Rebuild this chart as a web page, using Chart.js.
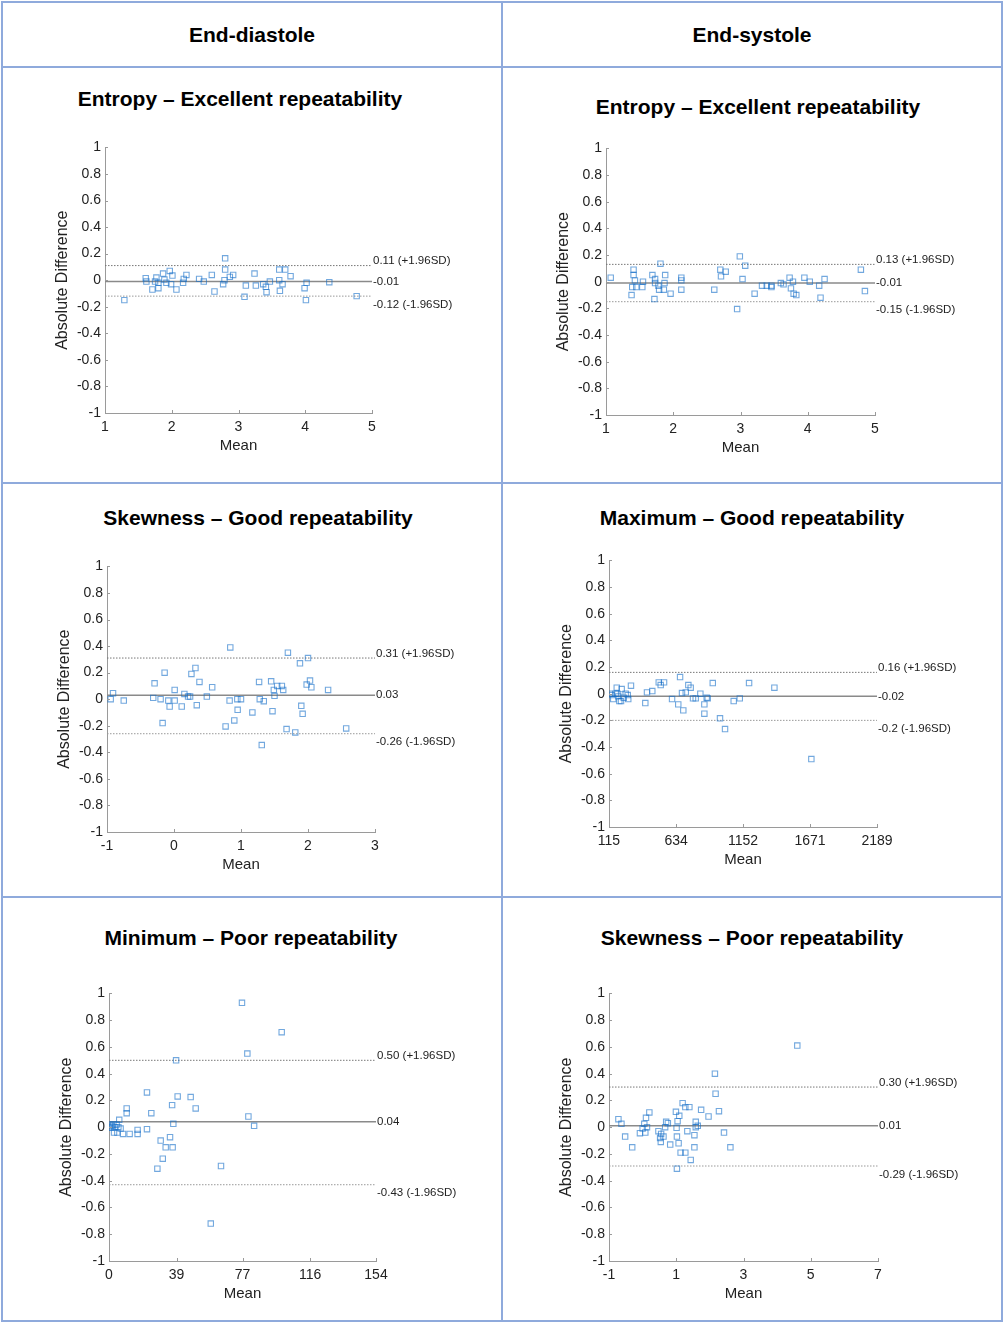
<!DOCTYPE html>
<html><head><meta charset="utf-8">
<script src="https://cdn.jsdelivr.net/npm/chart.js@4.4.1/dist/chart.umd.min.js"></script>
<style>
body{margin:0;background:#fff;width:1005px;height:1324px;position:relative;overflow:hidden;font-family:"Liberation Sans",Arial,sans-serif}
.ln{position:absolute;background:#8FAADC}
.tt{position:absolute;width:500px;text-align:center;font-weight:bold;font-size:21px;color:#000;line-height:24px;white-space:nowrap}
canvas{position:absolute}
</style></head><body>
<div class="ln" style="left:1px;top:1px;width:1002px;height:2px"></div>
<div class="ln" style="left:1px;top:1320px;width:1002px;height:2px"></div>
<div class="ln" style="left:1px;top:1px;width:2px;height:1321px"></div>
<div class="ln" style="left:1001px;top:1px;width:2px;height:1321px"></div>
<div class="ln" style="left:501px;top:1px;width:2px;height:1321px"></div>
<div class="ln" style="left:1px;top:66px;width:1002px;height:2px"></div>
<div class="ln" style="left:1px;top:482px;width:1002px;height:2px"></div>
<div class="ln" style="left:1px;top:896px;width:1002px;height:2px"></div>

<div class="tt" style="left:2px;top:23px">End-diastole</div>
<div class="tt" style="left:502px;top:23px">End-systole</div>
<div class="tt" style="left:-10px;top:87px">Entropy – Excellent repeatability</div>
<div class="tt" style="left:508px;top:95px">Entropy – Excellent repeatability</div>
<div class="tt" style="left:8px;top:506px">Skewness – Good repeatability</div>
<div class="tt" style="left:502px;top:506px">Maximum – Good repeatability</div>
<div class="tt" style="left:1px;top:926px">Minimum – Poor repeatability</div>
<div class="tt" style="left:502px;top:926px">Skewness – Poor repeatability</div>

<canvas id="c1"></canvas><canvas id="c2"></canvas><canvas id="c3"></canvas>
<canvas id="c4"></canvas><canvas id="c5"></canvas><canvas id="c6"></canvas>
<script>
// ---------- DATA ----------
const yTicks = [-1, -0.8, -0.6, -0.4, -0.2, 0, 0.2, 0.4, 0.6, 0.8, 1];

// End-diastole, Entropy
const edEntropyMean = [1.29,1.61,1.62,1.71,1.75,1.77,1.80,1.80,1.87,1.89,1.92,1.97,1.99,2.01,2.07,2.17,2.18,2.22,2.41,2.48,2.60,2.64,2.77,2.80,2.80,2.79,2.87,2.92,3.09,3.11,3.24,3.26,3.37,3.41,3.42,3.47,3.61,3.62,3.61,3.66,3.70,3.78,3.99,4.01,4.02,4.36,4.77];
const edEntropyDiff = [-0.15,0.015,-0.01,-0.07,-0.01,0.02,-0.06,-0.02,0.05,0.005,-0.02,0.07,-0.03,0.035,-0.07,-0.02,0.01,0.04,0.01,-0.01,0.04,-0.085,-0.03,0.165,0.08,0.0,0.025,0.04,-0.125,-0.04,0.05,-0.04,-0.03,-0.05,-0.09,-0.01,0.08,-0.08,0.0,-0.03,0.08,0.03,-0.06,-0.15,-0.02,-0.015,-0.12];
const edEntropyLimits = [0.11, -0.01, -0.12];
const edEntropyLabels = ["0.11 (+1.96SD)", "-0.01", "-0.12 (-1.96SD)"];
const edEntropyXTicks = [1, 2, 3, 4, 5];

// End-systole, Entropy
const esEntropyMean = [1.07,1.38,1.39,1.41,1.41,1.43,1.45,1.54,1.55,1.69,1.72,1.73,1.73,1.78,1.79,1.81,1.86,1.87,1.88,1.96,2.12,2.12,2.12,2.61,2.70,2.71,2.78,2.99,2.95,3.03,3.07,3.21,3.32,3.39,3.46,3.46,3.60,3.64,3.73,3.75,3.78,3.79,3.83,3.95,4.03,4.17,4.19,4.25,4.79,4.85];
const esEntropyDiff = [0.03,-0.10,-0.04,0.09,0.05,0.01,-0.04,-0.04,0.0,0.05,-0.13,0.02,-0.01,-0.03,-0.06,0.135,-0.06,-0.01,0.05,-0.09,0.03,0.01,-0.06,-0.06,0.09,0.04,0.075,0.19,-0.205,0.02,0.12,-0.09,-0.03,-0.03,-0.03,-0.04,-0.01,-0.02,0.03,-0.05,0.0,-0.09,-0.10,0.03,0.0,-0.03,-0.12,0.02,0.09,-0.07];
const esEntropyLimits = [0.13, -0.01, -0.15];
const esEntropyLabels = ["0.13 (+1.96SD)", "-0.01", "-0.15 (-1.96SD)"];
const esEntropyXTicks = [1, 2, 3, 4, 5];

// End-diastole, Skewness
const edSkewMean = [-0.945,-0.91,-0.75,-0.31,-0.29,-0.20,-0.17,-0.14,-0.085,-0.065,0.01,0.01,0.115,0.155,0.21,0.24,0.26,0.32,0.34,0.38,0.49,0.57,0.77,0.83,0.84,0.90,0.945,0.95,1.00,1.17,1.27,1.28,1.31,1.34,1.45,1.47,1.49,1.50,1.54,1.61,1.63,1.68,1.70,1.81,1.88,1.90,1.92,1.98,2.00,2.03,2.05,2.30,2.57];
const edSkewDiff = [0.0,0.045,-0.01,0.01,0.12,0.0,-0.18,0.20,-0.01,-0.055,0.07,-0.01,-0.055,0.04,0.02,0.02,0.19,0.235,-0.045,0.13,0.02,0.09,-0.205,-0.01,0.39,-0.16,0.0,-0.08,0.0,-0.10,0.13,0.0,-0.345,-0.015,0.135,-0.09,0.07,0.025,0.10,0.10,0.07,-0.225,0.35,-0.25,0.27,-0.05,-0.11,0.11,0.31,0.14,0.09,0.07,-0.22];
const edSkewLimits = [0.31, 0.03, -0.26];
const edSkewLabels = ["0.31 (+1.96SD)", "0.03", "-0.26 (-1.96SD)"];
const edSkewXTicks = [-1, 0, 1, 2, 3];

// End-systole, Maximum
const esMaxMean = [123,136,148,167,175,180,187,195,208,213,229,244,260,264,285,396,409,450,500,515,541,603,651,665,680,690,709,729,747,765,786,822,853,853,871,879,918,974,1013,1080,1127,1199,1395,1681];
const esMaxDiff = [0.0,-0.01,-0.04,0.0,0.045,0.0,-0.02,-0.055,-0.055,0.035,-0.03,0.0,-0.01,-0.04,0.06,-0.07,0.01,0.02,0.085,0.065,0.085,-0.04,-0.08,0.125,0.005,-0.125,0.01,0.065,0.045,-0.035,-0.035,0.0,-0.08,-0.15,-0.03,-0.035,0.08,-0.185,-0.265,-0.055,-0.035,0.08,0.045,-0.49];
const esMaxLimits = [0.16, -0.02, -0.2];
const esMaxLabels = ["0.16 (+1.96SD)", "-0.02", "-0.2 (-1.96SD)"];
const esMaxXTicks = [115, 634, 1152, 1671, 2189];

// End-diastole, Minimum
const edMinMean = [0,0.6,1.2,1.7,2.5,2.9,3.5,4.4,4.8,5.4,5.9,6.7,8.1,10.2,10.2,11.9,16.5,16.5,21.9,21.9,24.4,27.9,29.8,31,32.7,35.2,36.4,36.7,37.1,38.7,39.6,47.1,50.0,58.7,64.6,76.7,79.8,80.4,83.7,99.6];
const edMinDiff = [0.0,0.02,-0.005,0.01,0.02,-0.04,0.0,0.02,-0.04,0.0,0.055,-0.01,-0.05,0.105,0.14,-0.05,-0.02,-0.05,0.26,-0.015,0.105,-0.31,-0.10,-0.235,-0.15,-0.075,0.165,-0.15,0.025,0.50,0.23,0.225,0.14,-0.72,-0.29,0.93,0.55,0.08,0.01,0.71];
const edMinLimits = [0.50, 0.04, -0.43];
const edMinLabels = ["0.50 (+1.96SD)", "0.04", "-0.43 (-1.96SD)"];
const edMinXTicks = [0, 39, 77, 116, 154];

// End-systole, Skewness
const esSkewMean = [-0.72,-0.63,-0.52,-0.31,-0.08,0.0,0.05,0.08,0.10,0.13,0.20,0.47,0.52,0.54,0.55,0.62,0.67,0.70,0.75,0.82,0.99,1.01,1.02,1.02,1.04,1.07,1.09,1.13,1.19,1.27,1.27,1.33,1.39,1.43,1.54,1.54,1.58,1.58,1.64,1.74,1.96,2.15,2.17,2.27,2.42,2.61,4.60];
const esSkewDiff = [0.06,0.025,-0.07,-0.15,-0.045,-0.01,0.025,-0.04,0.07,0.0,0.11,-0.03,-0.08,-0.11,-0.05,-0.07,0.0,0.04,0.03,-0.13,0.115,-0.005,-0.07,-0.31,0.045,-0.12,0.085,-0.19,0.18,-0.19,0.15,-0.03,0.15,-0.245,-0.06,-0.15,0.04,0.0,0.01,0.13,0.08,0.40,0.25,0.12,-0.04,-0.15,0.61];
const esSkewLimits = [0.30, 0.01, -0.29];
const esSkewLabels = ["0.30 (+1.96SD)", "0.01", "-0.29 (-1.96SD)"];
const esSkewXTicks = [-1, 1, 3, 5, 7];

// ---------- RENDER ----------
const FAM = '"Liberation Sans", Arial, sans-serif';
const PADL = 65, PADT = 12, PADR = 100, PADB = 48;

function makeChart(id, area, xs, ys, limits, labels, xTicks) {
  const cv = document.getElementById(id);
  const w = area.r - area.l + PADL + PADR, h = area.b - area.t + PADT + PADB;
  cv.width = w; cv.height = h;
  cv.style.left = (area.l - PADL) + 'px'; cv.style.top = (area.t - PADT) + 'px';
  cv.style.width = w + 'px'; cv.style.height = h + 'px';
  const xmin = xTicks[0], xmax = xTicks[xTicks.length - 1];
  const pts = xs.map((x, i) => ({x: x, y: ys[i]}));
  const hl = v => [{x: xmin, y: v}, {x: xmax, y: v}];
  const deco = {
    id: 'deco' + id,
    afterDatasetsDraw(chart) {
      const {ctx, chartArea: a, scales: {x, y}} = chart;
      ctx.save();
      ctx.strokeStyle = '#9a9a9a'; ctx.lineWidth = 1;
      ctx.beginPath();
      x.ticks.forEach(t => { const px = Math.round(x.getPixelForValue(t.value)) + 0.5; ctx.moveTo(px, a.bottom); ctx.lineTo(px, a.bottom - 3); });
      y.ticks.forEach(t => { const py = Math.round(y.getPixelForValue(t.value)) + 0.5; ctx.moveTo(a.left, py); ctx.lineTo(a.left + 3, py); });
      ctx.stroke();
      ctx.fillStyle = '#222';
      ctx.font = '11.5px ' + FAM;
      ctx.textAlign = 'left';
      ctx.textBaseline = 'alphabetic';
      ctx.fillText(labels[0], a.right + 1, y.getPixelForValue(limits[0]) - 1.5);
      ctx.textBaseline = 'middle';
      ctx.fillText(labels[1], a.right + 1, y.getPixelForValue(limits[1]));
      ctx.textBaseline = 'alphabetic';
      ctx.fillText(labels[2], a.right + 1, y.getPixelForValue(limits[2]) + 11.5);
      ctx.restore();
    }
  };
  new Chart(cv, {
    type: 'scatter',
    data: {
      datasets: [
        {type: 'line', data: hl(limits[0]), borderColor: '#777', borderWidth: 1, borderDash: [1.5, 1.5], pointRadius: 0, order: 3},
        {type: 'line', data: hl(limits[1]), borderColor: '#8a8a8a', borderWidth: 1.5, pointRadius: 0, order: 2},
        {type: 'line', data: hl(limits[2]), borderColor: '#999', borderWidth: 1, borderDash: [1.5, 1.5], pointRadius: 0, order: 3},
        {data: pts, pointStyle: 'rect', pointRadius: 3.8, pointBorderWidth: 1.1,
         pointBorderColor: 'rgba(20,110,200,0.6)', pointBackgroundColor: 'rgba(0,0,0,0)', order: 1}
      ]
    },
    options: {
      responsive: false, maintainAspectRatio: false, animation: false, devicePixelRatio: 1,
      layout: {padding: {left: 0, top: PADT, right: PADR, bottom: 0}},
      plugins: {legend: {display: false}, tooltip: {enabled: false}},
      scales: {
        x: {
          type: 'linear', min: xmin, max: xmax,
          afterBuildTicks: s => { s.ticks = xTicks.map(v => ({value: v})); },
          afterFit: s => { s.height = PADB; },
          grid: {display: false, drawTicks: false},
          border: {display: true, color: '#9a9a9a', width: 1},
          ticks: {padding: 6, color: '#222', font: {size: 14, family: FAM}, autoSkip: false, maxRotation: 0, callback: v => String(v)},
          title: {display: true, text: 'Mean', color: '#222', font: {size: 15, family: FAM}, padding: {top: 0, bottom: 6}}
        },
        y: {
          type: 'linear', min: -1, max: 1,
          afterBuildTicks: s => { s.ticks = yTicks.map(v => ({value: v})); },
          afterFit: s => { s.width = PADL; },
          grid: {display: false, drawTicks: false},
          border: {display: true, color: '#9a9a9a', width: 1},
          ticks: {padding: 4, color: '#222', font: {size: 14, family: FAM}, autoSkip: false, callback: v => String(Math.round(v * 10) / 10)},
          title: {display: true, text: 'Absolute Difference', color: '#222', font: {size: 16, family: FAM}, padding: {top: 13.4, bottom: 0}}
        }
      }
    },
    plugins: [deco]
  });
}

makeChart('c1', {l: 105, r: 372, t: 147, b: 413}, edEntropyMean, edEntropyDiff, edEntropyLimits, edEntropyLabels, edEntropyXTicks);
makeChart('c2', {l: 606, r: 875, t: 148, b: 415}, esEntropyMean, esEntropyDiff, esEntropyLimits, esEntropyLabels, esEntropyXTicks);
makeChart('c3', {l: 107, r: 375, t: 566, b: 832}, edSkewMean, edSkewDiff, edSkewLimits, edSkewLabels, edSkewXTicks);
makeChart('c4', {l: 609, r: 877, t: 560, b: 827}, esMaxMean, esMaxDiff, esMaxLimits, esMaxLabels, esMaxXTicks);
makeChart('c5', {l: 109, r: 376, t: 993, b: 1261}, edMinMean, edMinDiff, edMinLimits, edMinLabels, edMinXTicks);
makeChart('c6', {l: 609, r: 878, t: 993, b: 1261}, esSkewMean, esSkewDiff, esSkewLimits, esSkewLabels, esSkewXTicks);
</script>
</body></html>
